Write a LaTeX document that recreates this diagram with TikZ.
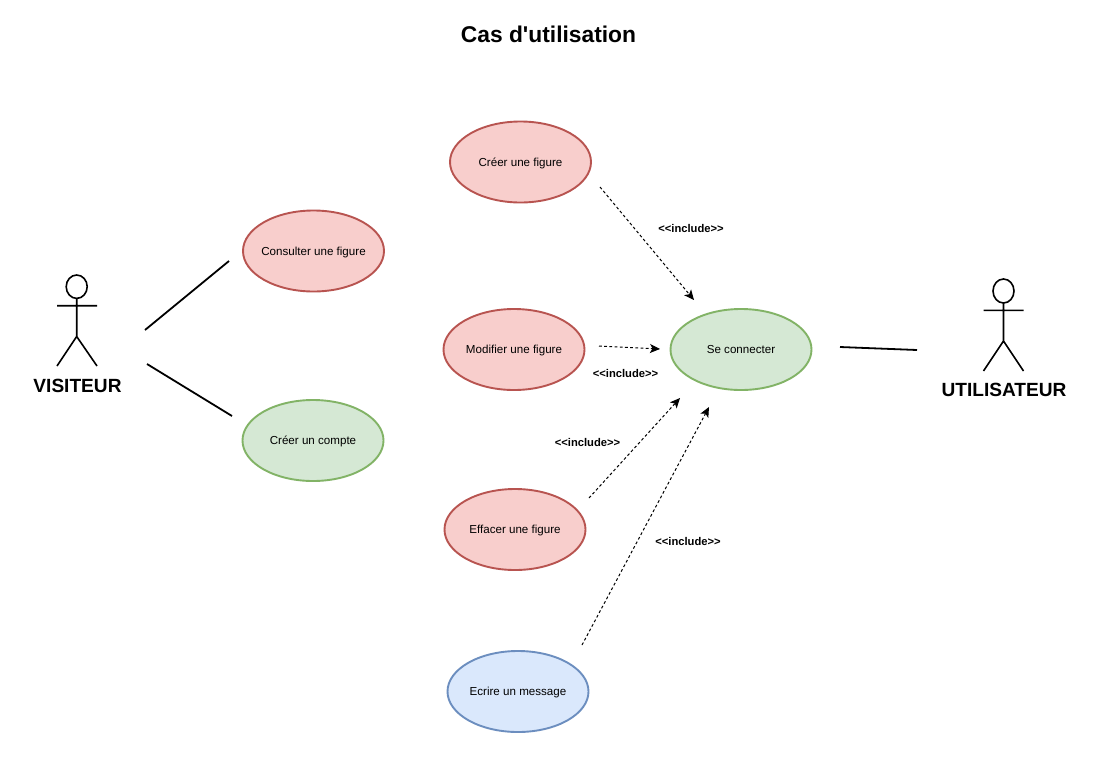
\documentclass[tikz,border=0pt]{standalone}
\usepackage{fontspec}
\usepackage{tikz}
\usetikzlibrary{shapes.geometric,arrows.meta}
\newfontfamily\libsans{Liberation Sans}
\definecolor{redfill}{HTML}{F8CECC}
\definecolor{redline}{HTML}{B85450}
\definecolor{greenfill}{HTML}{D5E8D4}
\definecolor{greenline}{HTML}{82B366}
\definecolor{bluefill}{HTML}{DAE8FC}
\definecolor{blueline}{HTML}{6C8EBF}
\tikzset{
  usecase/.style={ellipse,draw,line width=1.9pt,minimum width=141pt,minimum height=81pt,inner xsep=-25pt,inner ysep=0pt,text height=8.4pt,text depth=0pt,font=\libsans\fontsize{11.6}{13}\selectfont,text=black},
  redcase/.style={usecase,fill=redfill,draw=redline},
  greencase/.style={usecase,fill=greenfill,draw=greenline},
  bluecase/.style={usecase,fill=bluefill,draw=blueline},
  assoc/.style={draw=black,line width=1.8pt},
  incl/.style={draw=black,line width=1pt,dash pattern=on 2.8pt off 2.4pt,-{Stealth[length=10pt,width=9pt,inset=2.5pt]}},
  stick/.style={draw=black,line width=1.6pt},
  actorlabel/.style={font=\libsans\bfseries\fontsize{19.1}{21}\selectfont,inner sep=0pt},
  incllabel/.style={font=\libsans\bfseries\fontsize{11.2}{13}\selectfont,inner sep=0pt},
  titlelabel/.style={font=\libsans\bfseries\fontsize{22.8}{25}\selectfont,inner sep=0pt}
}
\begin{document}
\begin{tikzpicture}[x=1pt,y=-1pt]
\useasboundingbox (0,0) rectangle (1095,774);
\fill[white] (0,0) rectangle (1095,774);
\node[titlelabel] (title) at (548.5,34) {Cas d'utilisation};
\node[redcase] (creer) at (520.5,162) {Créer une figure};
\node[redcase] (consulter) at (313.5,251) {Consulter une figure};
\node[greencase] (compte) at (313,440.5) {Créer un compte};
\node[redcase] (modifier) at (514,349.5) {Modifier une figure};
\node[redcase] (effacer) at (515,529.5) {Effacer une figure};
\node[bluecase] (ecrire) at (518,691.5) {Ecrire un message};
\node[greencase] (connecter) at (741,349.5) {Se connecter};
% actors
\draw[stick] (76.7,286.7) ellipse (10.5 and 11.7);
\draw[stick] (76.7,298.4) -- (76.7,336.5) (57,305.7) -- (97,305.7) (57,366) -- (76.7,336.5) -- (97,366);
\node[actorlabel] (visiteur) at (77.5,385.5) {VISITEUR};
\draw[stick] (1003.5,291) ellipse (10.5 and 12);
\draw[stick] (1003.5,303) -- (1003.5,341) (983.5,310.3) -- (1023.5,310.3) (983.5,371) -- (1003.5,341) -- (1023.5,371);
\node[actorlabel] (utilisateur) at (1004,389.5) {UTILISATEUR};
% free ends
\coordinate (a1) at (145,330); \coordinate (a2) at (229,261);
\coordinate (b1) at (147,364); \coordinate (b2) at (232,416);
\coordinate (c1) at (840,347); \coordinate (c2) at (917,350);
\coordinate (d1) at (600,187); \coordinate (d2) at (694,300);
\coordinate (e1) at (599,346); \coordinate (e2) at (660,349);
\coordinate (f1) at (589,498); \coordinate (f2) at (680,398);
\coordinate (g1) at (582,645); \coordinate (g2) at (709,407);
\draw[assoc] (a1) -- (a2);
\draw[assoc] (b1) -- (b2);
\draw[assoc] (c1) -- (c2);
\draw[incl] (d1) -- (d2);
\draw[incl] (e1) -- (e2);
\draw[incl] (f1) -- (f2);
\draw[incl] (g1) -- (g2);
\node[incllabel] (l1) at (691,228.3) {<<include>>};
\node[incllabel] (l2) at (625.5,373.3) {<<include>>};
\node[incllabel] (l3) at (587.5,442.3) {<<include>>};
\node[incllabel] (l4) at (688,541.3) {<<include>>};
\end{tikzpicture}
\end{document}
